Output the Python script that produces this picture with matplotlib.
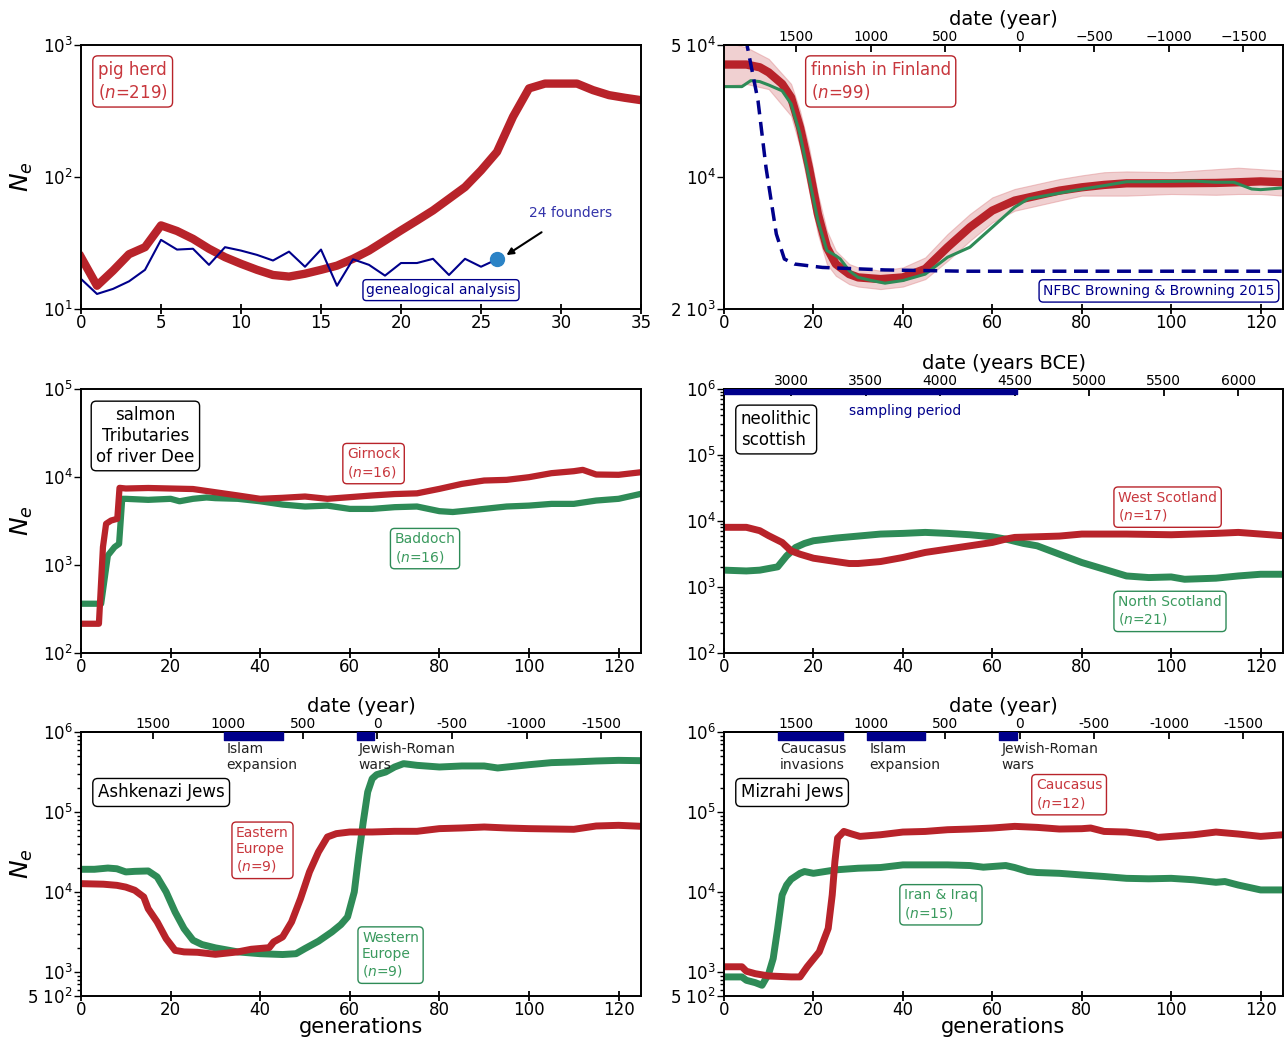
import matplotlib
matplotlib.use('Agg')
import matplotlib.pyplot as plt
import matplotlib.transforms as mtrans
from matplotlib.ticker import LogLocator, NullLocator, FixedLocator

plt.rcParams.update({'font.family': 'DejaVu Sans', 'axes.linewidth': 1.4,
                     'xtick.labelsize': 12, 'ytick.labelsize': 12})
RED, GREEN, NAVY = '#B8232A', '#2E8B57', '#00008B'
RED_T, GREEN_T = '#C8373D', '#3A9A5E'

# ---- pig herd ----
pig_gen = list(range(36))
pig_ne = [24.7, 15, 19.5, 26, 29.4, 43, 39, 34, 28.6, 24.7, 22, 19.8, 18.1, 17.6, 18.5, 19.8, 21.3, 24,
          27.7, 33, 39.4, 46.8, 55.8, 68.4, 83.9, 112, 155, 286, 469, 510, 510, 510, 455, 417, 398, 382]
geneal_gen = list(range(27))
geneal_ne = [16.9, 13, 14.2, 16.2, 19.8, 33.4, 28.2, 28.6, 21.6, 29.4, 27.7, 25.7, 23.3, 27.2, 20.9, 28.2,
             15, 23.8, 21.6, 17.9, 22.3, 22.3, 24, 18.1, 24, 20.9, 23.8]
founders_gen, founders_ne = 26, 23.8

# ---- finnish ----
fin_gen = [0, 5, 8, 10, 13, 15, 17, 19, 21, 23, 25, 28, 30, 35, 40, 45, 50, 55, 60, 65, 70, 75, 80, 85,
           90, 100, 110, 115, 120, 125]
fin_red = [39400, 39400, 38100, 35800, 31100, 26400, 18300, 11200, 6360, 4240, 3460, 3060, 2940, 2880, 2940,
           3260, 4250, 5420, 6640, 7500, 7970, 8470, 8820, 9080, 9260, 9260, 9300, 9380, 9480, 9380]
band_gen = [0, 5, 10, 15, 17, 19, 21, 23, 25, 28, 30, 35, 40, 45, 50, 55, 60, 65, 70, 75, 80, 85, 90, 100,
            110, 115, 120, 125]
band_hi = [52000, 48600, 42200, 31100, 22400, 14400, 8130, 5200, 4070, 3460, 3320, 3190, 3320, 3750, 4990,
           6370, 7800, 8640, 9180, 9750, 10200, 10600, 10700, 10600, 11000, 11200, 11000, 10800]
band_lo = [30500, 31100, 29200, 21100, 14400, 8470, 4990, 3460, 3000, 2710, 2630, 2550, 2630, 2880, 3600,
           4600, 5750, 6630, 7050, 7500, 7970, 7970, 7970, 8130, 8050, 8130, 8130, 7970]
fin_gen_g = [0, 4, 6, 8, 10, 13, 15, 17, 19, 21, 23, 25, 26, 28, 30, 33, 36, 40, 45, 50, 55, 60, 65, 68, 72,
             78, 85, 90, 95, 100, 105, 110, 114, 118, 120, 125]
fin_green = [30100, 30100, 32400, 32000, 30700, 28600, 24400, 16900, 9950, 5870, 4080, 3830, 3680, 3190, 2940,
             2830, 2740, 2830, 3060, 3760, 4250, 5420, 6920, 7660, 7970, 8470, 9000, 9440, 9440, 9480, 9520,
             9380, 9380, 8640, 8570, 8760]
nfbc_gen = [4.8, 7.6, 9.4, 11.7, 13.5, 15.8, 22, 36, 54, 125]
nfbc_ne = [55000, 25400, 11200, 4990, 3680, 3460, 3320, 3220, 3170, 3170]

# ---- salmon ----
sal_gen_r = [0, 4, 4.9, 5.6, 6.7, 8.1, 8.6, 10, 15, 25, 30, 35, 40, 45, 50, 55, 60, 65, 70, 75, 80, 85, 90,
             95, 100, 105, 110, 112, 115, 120, 125]
sal_red = [215, 215, 1600, 2940, 3200, 3350, 7530, 7400, 7500, 7300, 6710, 6170, 5650, 5800, 6000, 5650, 5900,
           6170, 6400, 6520, 7330, 8350, 9120, 9280, 9950, 11050, 11640, 12050, 10670, 10590, 11330]
sal_gen_g = [0, 4.5, 6, 7.5, 8.5, 9.2, 10, 15, 20, 22, 25, 28, 30, 35, 40, 45, 50, 55, 60, 65, 70, 75, 80, 83,
             90, 95, 100, 105, 110, 115, 120, 125]
sal_green = [363, 363, 1285, 1600, 1740, 5650, 5650, 5500, 5650, 5300, 5650, 5850, 5750, 5650, 5300, 4860, 4620,
             4730, 4340, 4340, 4540, 4620, 4090, 4000, 4340, 4620, 4730, 4950, 4950, 5400, 5650, 6440]

# ---- neolithic ----
neo_gen_r = [0, 5, 8, 10, 13, 15, 17, 20, 25, 28, 30, 35, 40, 45, 50, 55, 60, 63, 65, 70, 75, 80, 90, 100, 110,
             115, 120, 125]
neo_red = [8020, 8020, 7130, 5980, 4730, 3530, 3140, 2730, 2430, 2270, 2270, 2430, 2800, 3340, 3750, 4210, 4730,
           5320, 5640, 5770, 5910, 6340, 6340, 6190, 6490, 6720, 6340, 5980]
neo_gen_g = [0, 5, 8, 12, 14, 16, 18, 20, 25, 30, 35, 40, 45, 50, 55, 60, 63, 67, 70, 75, 80, 85, 90, 95, 100,
             103, 110, 115, 120, 125]
neo_green = [1800, 1750, 1800, 2020, 2960, 3970, 4570, 5020, 5510, 5910, 6340, 6490, 6720, 6490, 6190, 5770,
             5320, 4570, 4210, 3140, 2350, 1860, 1470, 1390, 1420, 1310, 1360, 1470, 1560, 1560]
sampling_period = (0, 65.5)

# ---- ashkenazi ----
ash_gen_g = [0, 3, 6, 8, 10, 12, 15, 17, 19, 21, 23, 25, 27, 30, 35, 40, 45, 48, 50, 53, 56, 58, 59.5, 61, 62,
             63, 64, 65, 66, 68, 70, 72, 75, 80, 85, 90, 93, 100, 105, 110, 115, 120, 125]
ash_green = [19200, 19200, 19900, 19500, 17800, 18100, 18300, 15400, 10000, 5620, 3480, 2490, 2200, 2000, 1780,
             1690, 1650, 1690, 1960, 2420, 3160, 3900, 4870, 10000, 28700, 75000, 178000, 261000, 293000,
             316000, 365000, 402000, 383000, 365000, 376000, 376000, 355000, 390000, 414000, 422000, 434000,
             442000, 438000]
ash_gen_r = [0, 5, 8, 10, 12, 14, 15, 17, 19, 21, 23, 26, 30, 35, 38, 42, 43, 45, 47, 49, 51, 53, 55, 57, 60,
             65, 70, 75, 80, 85, 90, 95, 100, 110, 115, 120, 125]
ash_red = [12700, 12500, 12100, 11500, 10500, 8660, 6170, 4220, 2610, 1860, 1780, 1760, 1660, 1780, 1920, 2010,
           2370, 2740, 4220, 8250, 17800, 31600, 48700, 53600, 56200, 56200, 57300, 57300, 61900, 63100, 64900,
           63100, 61900, 60700, 66800, 68100, 66200]
ash_events = [('Islam\nexpansion', 32, 45), ('Jewish-Roman\nwars', 61.5, 65.5)]

# ---- mizrahi ----
miz_gen_r = [0, 4, 5, 7, 10, 15, 17, 18.6, 21.3, 23.3, 24.2, 24.8, 25.4, 26.8, 28.6, 30.4, 35, 40, 45, 50, 55,
             60, 65, 70, 75, 80, 82, 85, 90, 95, 97, 100, 105, 110, 115, 120, 125]
miz_red = [1160, 1160, 1020, 950, 890, 866, 866, 1160, 1780, 3500, 9160, 24000, 47200, 57100, 53000, 49500,
           51900, 56100, 57100, 60000, 61200, 63000, 66100, 64200, 61200, 61800, 63000, 57100, 56100, 51900,
           48100, 49500, 51900, 56100, 53000, 49500, 51900]
miz_gen_g = [0, 4, 5, 7, 8.5, 10, 11, 12, 13, 14, 15, 17, 18, 20, 25, 30, 35, 40, 45, 50, 55, 58, 60, 63, 65,
             68, 70, 75, 80, 85, 90, 95, 100, 105, 110, 112, 115, 120, 125]
miz_green = [866, 866, 786, 734, 681, 953, 1470, 3500, 9160, 12200, 14400, 17100, 18000, 17100, 18900, 19800,
             20200, 21800, 21800, 21800, 21400, 20400, 20800, 21400, 20200, 18000, 17500, 17100, 16300, 15600,
             14800, 14600, 14800, 14200, 13200, 13500, 12200, 10600, 10600]
miz_events = [('Caucasus\ninvasions', 12, 26.5), ('Islam\nexpansion', 32, 45), ('Jewish-Roman\nwars', 61.5, 65.5)]

year_ticks = [1500, 1000, 500, 0, -500, -1000, -1500]
bce_ticks = [3000, 3500, 4000, 4500, 5000, 5500, 6000]


def g2year(g): return 1985 - 30 * g
def year2g(y): return (1985 - y) / 30
def g2bce(g): return 2550 + 30 * g
def bce2g(y): return (y - 2550) / 30


def box(ax, x, y, s, color, tcolor=None, fs=10, ha='left', ma='left'):
    ax.text(x, y, s, transform=ax.transAxes, ha=ha, va='top', ma=ma, color=tcolor or color, fontsize=fs,
            bbox=dict(boxstyle='round,pad=0.3', fc='white', ec=color, lw=1.0))


def base(ax, xmax=125, step=20):
    ax.set_yscale('log')
    ax.set_xlim(0, xmax)
    ax.set_xticks(range(0, xmax + 1, step))
    ax.tick_params(axis='x', direction='inout', length=7, width=1.3, pad=0, top=False)
    ax.tick_params(axis='y', which='both', direction='out', width=1.0, pad=1)
    ax.tick_params(axis='y', which='major', length=5)
    ax.tick_params(axis='y', which='minor', length=3)


def ne_label(ax):
    ax.set_ylabel(r'$N_e$', fontsize=18)
    ax.yaxis.set_label_coords(-0.082, 0.5)


def top_axis(ax, f, finv, ticks, label, minus=True):
    sec = ax.secondary_xaxis('top', functions=(f, finv))
    sec.set_xticks(ticks)
    if not minus:
        sec.set_xticklabels([str(t) for t in ticks])
    sec.tick_params(direction='in', length=5, width=1.3, labelsize=10, pad=1)
    sec.set_xlabel(label, fontsize=14, labelpad=3)
    return sec


def events(ax, evs, y0, h):
    tr = mtrans.blended_transform_factory(ax.transData, ax.transAxes)
    for name, a, b in evs:
        ax.broken_barh([(a, b - a)], (y0, h), color=NAVY, zorder=5)
        ax.text(a + 0.5, 0.962, name, transform=tr, ha='left', va='top', fontsize=10, color='#222222')


W = 1285; H = 1039
fig = plt.figure(figsize=(W / 100, H / 100), dpi=100)
xl, xr = 81 / W, 724 / W
wl, wr = 560 / W, 559 / W
hh = 264 / H
rows = [1 - 309 / H, 1 - 653 / H, 1 - 996 / H]

# (a) pig herd
ax = fig.add_axes([xl, rows[0], wl, hh])
base(ax, 35, 5)
ax.set_ylim(10, 1000)
ax.yaxis.set_minor_locator(NullLocator())
ax.plot(pig_gen, pig_ne, color=RED, lw=6, solid_joinstyle='round')
ax.plot(geneal_gen, geneal_ne, color=NAVY, lw=1.5)
ax.plot([founders_gen], [founders_ne], 'o', color='#2B83C6', ms=10, zorder=6)
ax.annotate('24 founders', xy=(founders_gen + 0.3, founders_ne + 0.5), xytext=(30.6, 53), fontsize=10,
            color='#3333AA', ha='center', va='center',
            arrowprops=dict(arrowstyle='-|>', color='black', lw=1.5, shrinkA=12, shrinkB=4))
box(ax, 0.03, 0.94, 'pig herd\n($n$=219)', RED, RED_T, fs=12)
ax.text(22.5, 13.9, 'genealogical analysis', ha='center', va='center', fontsize=10, color=NAVY,
        bbox=dict(boxstyle='round,pad=0.25', fc='white', ec=NAVY, lw=1.0))
ne_label(ax)

# (b) finnish
ax = fig.add_axes([xr, rows[0], wr, hh])
base(ax)
ax.set_ylim(2000, 50000)
ax.yaxis.set_major_locator(FixedLocator([2000, 10000, 50000]))
ax.yaxis.set_minor_locator(NullLocator())
ax.set_yticklabels([r'2 $10^3$', r'$10^4$', r'5 $10^4$'])
ax.fill_between(band_gen, band_lo, band_hi, color='#E3A3A5', alpha=0.5, lw=0.8, edgecolor='#E08E91')
ax.plot(fin_gen, fin_red, color=RED, lw=6)
ax.plot(fin_gen_g, fin_green, color=GREEN, lw=2.2)
ax.plot(nfbc_gen, nfbc_ne, color=NAVY, lw=2.5, ls=(0, (4, 2.2)))
top_axis(ax, g2year, year2g, year_ticks, 'date (year)')
box(ax, 0.155, 0.94, 'finnish in Finland\n($n$=99)', RED, RED_T, fs=12)
box(ax, 0.985, 0.095, 'NFBC Browning & Browning 2015', NAVY, fs=10, ha='right')

# (c) salmon
ax = fig.add_axes([xl, rows[1], wl, hh])
base(ax)
ax.set_ylim(100, 1e5)
ax.yaxis.set_minor_locator(NullLocator())
ax.plot(sal_gen_g, sal_green, color=GREEN, lw=4.5)
ax.plot(sal_gen_r, sal_red, color=RED, lw=4.5)
box(ax, 0.115, 0.935, 'salmon\nTributaries\nof river Dee', 'black', fs=12, ha='center', ma='center')
box(ax, 0.475, 0.78, 'Girnock\n($n$=16)', RED, RED_T)
box(ax, 0.56, 0.458, 'Baddoch\n($n$=16)', GREEN, GREEN_T)
ne_label(ax)

# (d) neolithic
ax = fig.add_axes([xr, rows[1], wr, hh])
base(ax)
ax.set_ylim(100, 1e6)
ax.yaxis.set_minor_locator(LogLocator(subs=range(2, 10)))
ax.plot(neo_gen_g, neo_green, color=GREEN, lw=5)
ax.plot(neo_gen_r, neo_red, color=RED, lw=5)
ax.broken_barh([(sampling_period[0], sampling_period[1] - sampling_period[0])], (8.4e5, 1.6e5),
               color=NAVY, zorder=5)
ax.text(0.324, 0.945, 'sampling period', transform=ax.transAxes, ha='center', va='top', fontsize=10, color=NAVY)
top_axis(ax, g2bce, bce2g, bce_ticks, 'date (years BCE)')
box(ax, 0.03, 0.92, 'neolithic\nscottish', 'black', fs=12)
box(ax, 0.705, 0.615, 'West Scotland\n($n$=17)', RED, RED_T)
box(ax, 0.705, 0.22, 'North Scotland\n($n$=21)', GREEN, GREEN_T)

# (e) ashkenazi
ax = fig.add_axes([xl, rows[2], wl, hh])
base(ax)
ax.set_ylim(500, 1e6)
ax.yaxis.set_major_locator(FixedLocator([500, 1e3, 1e4, 1e5, 1e6]))
ax.set_yticklabels([r'5 $10^2$', r'$10^3$', r'$10^4$', r'$10^5$', r'$10^6$'])
ax.yaxis.set_minor_locator(LogLocator(subs=range(2, 10)))
ax.plot(ash_gen_g, ash_green, color=GREEN, lw=5)
ax.plot(ash_gen_r, ash_red, color=RED, lw=5)
events(ax, ash_events, 7.9e5, 2.1e5)
top_axis(ax, g2year, year2g, year_ticks, 'date (year)', minus=False)
box(ax, 0.03, 0.805, 'Ashkenazi Jews', 'black', fs=12)
box(ax, 0.277, 0.645, 'Eastern\nEurope\n($n$=9)', RED, RED_T)
box(ax, 0.502, 0.248, 'Western\nEurope\n($n$=9)', GREEN, GREEN_T)
ne_label(ax)
ax.set_xlabel('generations', fontsize=15, labelpad=-1)

# (f) mizrahi
ax = fig.add_axes([xr, rows[2], wr, hh])
base(ax)
ax.set_ylim(500, 1e6)
ax.yaxis.set_major_locator(FixedLocator([500, 1e3, 1e4, 1e5, 1e6]))
ax.set_yticklabels([r'5 $10^2$', r'$10^3$', r'$10^4$', r'$10^5$', r'$10^6$'])
ax.yaxis.set_minor_locator(LogLocator(subs=range(2, 10)))
ax.plot(miz_gen_g, miz_green, color=GREEN, lw=5)
ax.plot(miz_gen_r, miz_red, color=RED, lw=5)
events(ax, miz_events, 7.9e5, 2.1e5)
top_axis(ax, g2year, year2g, year_ticks, 'date (year)', minus=False)
box(ax, 0.03, 0.805, 'Mizrahi Jews', 'black', fs=12)
box(ax, 0.558, 0.825, 'Caucasus\n($n$=12)', RED, RED_T)
box(ax, 0.322, 0.408, 'Iran & Iraq\n($n$=15)', GREEN, GREEN_T)
ax.set_xlabel('generations', fontsize=15, labelpad=-1)

fig.savefig('out.png', dpi=100)
